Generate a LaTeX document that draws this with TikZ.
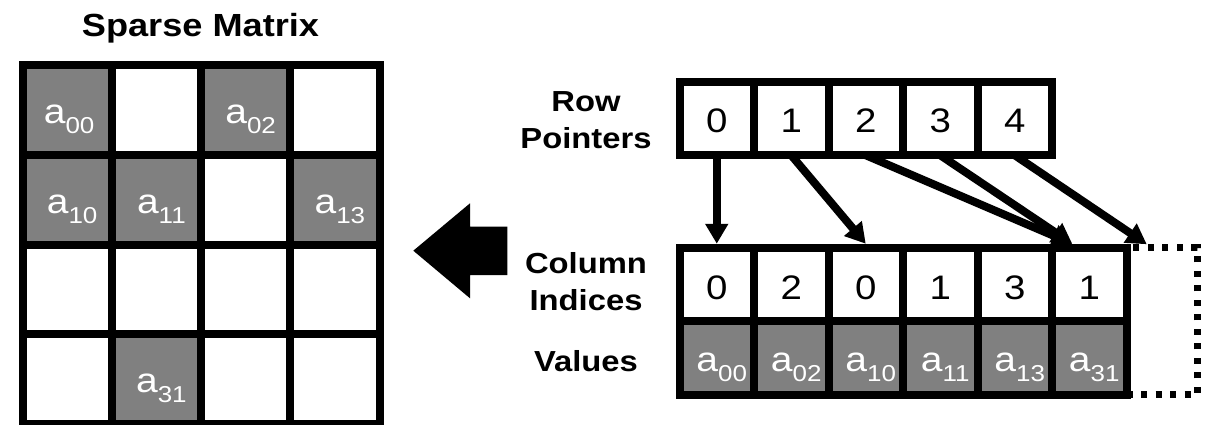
\documentclass[tikz,border=0pt]{standalone}
\usepackage{fontspec}
\setmainfont{Liberation Sans}
\usepackage{graphicx}
\usetikzlibrary{arrows.meta}
\newcommand\sx[1]{\scalebox{1.13}[1]{#1}}
\newcommand\ent[1]{\sx{a\raisebox{-10pt}{\fontsize{23}{23}\selectfont #1}}}
\tikzset{
  mcell/.style={draw=black, line width=8pt, inner sep=0pt, minimum width=89.25pt, minimum height=89.5pt, fill=white},
  acell/.style={draw=black, line width=8pt, inner sep=0pt, minimum width=74.5pt, minimum height=73.5pt, fill=white},
  filled/.style={fill=gray},
  valtxt/.style={anchor=base, text=white, font=\fontsize{34.5}{34.5}\selectfont, inner sep=0pt},
  numtxt/.style={anchor=base, text=black, font=\fontsize{34}{34}\selectfont, inner sep=0pt},
  lbl/.style={font=\bfseries\fontsize{29}{37}\selectfont, align=center, inner sep=0pt},
  ptr/.style={line width=8pt, -{Triangle[length=20pt,width=22pt]}},
  dotbox/.style={draw=black, line width=7pt, dash pattern=on 6pt off 8.5pt, inner sep=0pt, minimum width=70.5pt, minimum height=147pt}
}
\begin{document}
\begin{tikzpicture}[x=1pt,y=-1pt]
\useasboundingbox (0,0) rectangle (1205,425);
% title
\node[anchor=base, inner sep=0pt, font=\bfseries\fontsize{32}{32}\selectfont] (title) at (200.5,36.5) {\sx{Sparse Matrix}};
% sparse matrix
\node[mcell, filled] (m00) at (67.125,110.25) {};
\node[mcell] (m01) at (156.375,110.25) {};
\node[mcell, filled] (m02) at (245.625,110.25) {};
\node[mcell] (m03) at (334.875,110.25) {};
\node[mcell, filled] (m10) at (67.125,199.75) {};
\node[mcell, filled] (m11) at (156.375,199.75) {};
\node[mcell] (m12) at (245.625,199.75) {};
\node[mcell, filled] (m13) at (334.875,199.75) {};
\node[mcell] (m20) at (67.125,289.25) {};
\node[mcell] (m21) at (156.375,289.25) {};
\node[mcell] (m22) at (245.625,289.25) {};
\node[mcell] (m23) at (334.875,289.25) {};
\node[mcell] (m30) at (67.125,378.75) {};
\node[mcell, filled] (m31) at (156.375,378.75) {};
\node[mcell] (m32) at (245.625,378.75) {};
\node[mcell] (m33) at (334.875,378.75) {};
\node[valtxt] (t00) at ([xshift=2pt,yshift=-13.5pt]m00.center) {\ent{00}};
\node[valtxt] (t02) at ([xshift=5pt,yshift=-13.5pt]m02.center) {\ent{02}};
\node[valtxt] (t10) at ([xshift=5pt,yshift=-13.5pt]m10.center) {\ent{10}};
\node[valtxt] (t11) at ([xshift=5pt,yshift=-13.5pt]m11.center) {\ent{11}};
\node[valtxt] (t13) at ([xshift=5pt,yshift=-13.5pt]m13.center) {\ent{13}};
\node[valtxt] (t31) at ([xshift=5pt,yshift=-13.5pt]m31.center) {\ent{31}};
% big arrow
\fill[black] (507.3,226.7) -- (470,226.7) -- (470,203.3) -- (413.3,250.7) -- (470,298.3) -- (470,275) -- (507.3,275) -- cycle;
% labels
\node[lbl] (lrp) at (586,120) {\sx{Row}\\\sx{Pointers}};
\node[lbl] (lci) at (586,282) {\sx{Column}\\\sx{Indices}};
\node[lbl, anchor=base] (lval) at (586,371.7) {\sx{Values}};
% row pointers
\foreach \k in {0,...,4} {
  \node[acell] (rp\k) at ({716.75+74.5*\k},118.5) {};
  \node[numtxt] (rpt\k) at ([yshift=-14.5pt]rp\k.center) {\sx{\k}};
}
% column indices and values
\foreach \k/\c/\v in {0/0/00,1/2/02,2/0/10,3/1/11,4/3/13,5/1/31} {
  \node[acell] (ci\k) at ({716.75+74.5*\k},284.5) {};
  \node[numtxt] (cit\k) at ([yshift=-14.5pt]ci\k.center) {\sx{\c}};
  \node[acell, filled] (va\k) at ({716.75+74.5*\k},358) {};
  \node[valtxt] (vat\k) at ([xshift=5pt,yshift=-13.5pt]va\k.center) {\ent{\v}};
}
\node[dotbox] (ci6) at (1161.75,321.25) {};
% pointer arrows
\draw[ptr] ([yshift=4pt]rp0.south) -- (ci0.north);
\draw[ptr] ([yshift=4pt]rp1.south) -- (ci2.north);
\draw[ptr] ([yshift=4pt]rp2.south) -- ([xshift=-17pt]ci5.north);
\draw[ptr] ([yshift=4pt]rp3.south) -- ([xshift=-17pt]ci5.north);
\draw[ptr] ([yshift=4pt]rp4.south) -- ([xshift=-15pt]ci6.north);
\end{tikzpicture}
\end{document}
